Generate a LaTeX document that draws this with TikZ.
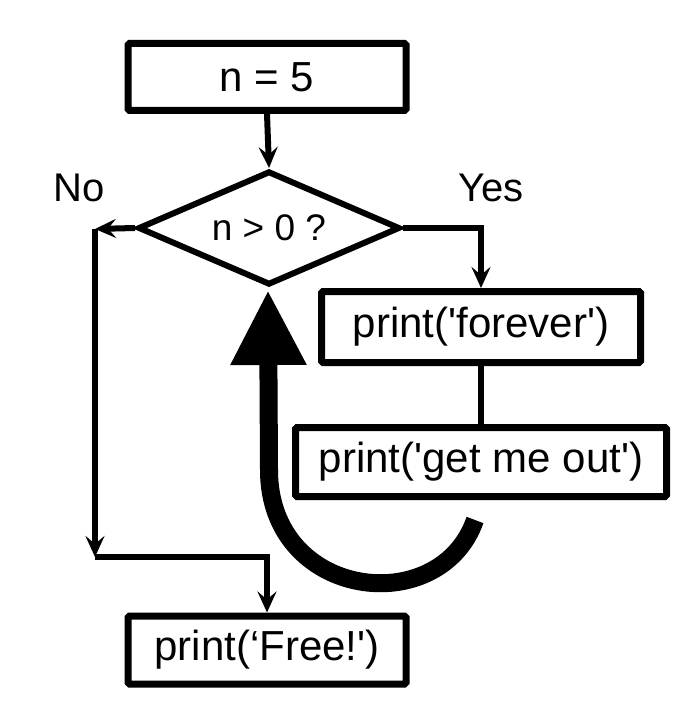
\documentclass[tikz,border=0pt]{standalone}
\usepackage{fontspec}
\newfontfamily\boxfont{Liberation Sans}
\newfontfamily\condfont{Liberation Sans}
\usetikzlibrary{shapes.geometric,arrows.meta}
\tikzset{
  boxnode/.style={draw, line width=7pt, inner sep=0pt, rounded corners=1.5pt,
    font=\boxfont\fontsize{42}{50}\selectfont},
  decnode/.style={draw, diamond, aspect=2.3, line width=6pt, inner sep=0pt,
    minimum width=262pt, minimum height=114pt,
    font=\condfont\fontsize{37}{44}\selectfont},
  lbl/.style={font=\boxfont\fontsize{40}{48}\selectfont, inner sep=0pt},
  arr/.style={line width=6pt, -{Stealth[length=21pt,width=19pt,inset=8pt]}},
  plain/.style={line width=6pt},
  loopback/.style={line width=18pt, -{Triangle[length=75pt,width=71pt]}}
}
\begin{document}
\begin{tikzpicture}[x=1pt,y=-1pt]
\useasboundingbox (0,0) rectangle (694,708);
\node[boxnode, minimum width=278pt, minimum height=67pt] (n5) at (267,77) {n = 5};
\node[decnode] (d) at (269,228) {n > 0 ?};
\node[boxnode, minimum width=319pt, minimum height=71pt] (fe) at (481,327) {print('forever')};
\node[boxnode, minimum width=371pt, minimum height=69pt] (go) at (481,462) {print('get me out')};
\node[boxnode, minimum width=278pt, minimum height=68pt] (fr) at (267,650) {print(‘Free!')};
\node[lbl] (no) at (79,188) {No};
\node[lbl] (yes) at (491,188) {Yes};
\coordinate (nl) at (95,229);
\coordinate (nb) at (95,557);
\coordinate (cs) at (475,520);
\coordinate (tip) at (268,290);
\draw[arr] (n5.south) -- (d.north);
\draw[arr] (d.west) -- (nl);
\draw[arr] (nl) -- (nb);
\draw[arr] (nb) -| (fr.north);
\draw[arr] (d.east) -| (fe.north);
\draw[plain] (fe.south) -- (go.north);
\draw[loopback] (cs) .. controls (440,620) and (269,600) .. (269,470) -- (tip);
\end{tikzpicture}
\end{document}
